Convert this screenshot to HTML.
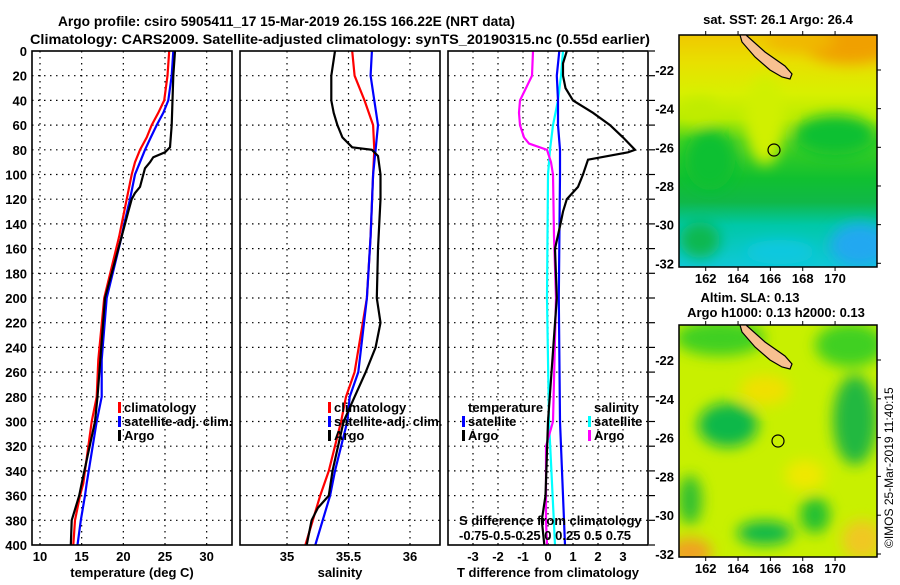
<!DOCTYPE html>
<html><head><meta charset="utf-8"><style>
html,body{margin:0;padding:0;background:#fff;}
svg text{font-family:"Liberation Sans",Arial,sans-serif;font-weight:bold;fill:#000;}
</style></head><body>
<svg id="fig" width="900" height="580" viewBox="0 0 900 580" xmlns="http://www.w3.org/2000/svg">
<defs>
<clipPath id="c1"><rect x="33" y="51" width="199" height="494"/></clipPath>
<clipPath id="c2"><rect x="241" y="51" width="199" height="494"/></clipPath>
<clipPath id="c3"><rect x="449" y="51" width="199" height="494"/></clipPath>
<clipPath id="m1"><rect x="679" y="35" width="198" height="232"/></clipPath>
<clipPath id="m2"><rect x="679" y="325" width="198" height="232"/></clipPath>
<filter id="bl" x="-50%" y="-50%" width="200%" height="200%"><feGaussianBlur stdDeviation="7"/></filter>
<linearGradient id="g1" x1="0" y1="0" x2="0" y2="1">
<stop offset="0" stop-color="#f0c800"/><stop offset="0.12" stop-color="#e8e000"/><stop offset="0.25" stop-color="#d8f000"/>
<stop offset="0.36" stop-color="#b8ec00"/><stop offset="0.46" stop-color="#40d020"/><stop offset="0.62" stop-color="#10c030"/>
<stop offset="0.72" stop-color="#10b848"/><stop offset="0.82" stop-color="#00c8a8"/><stop offset="1" stop-color="#10c8d8"/></linearGradient>
</defs>
<text x="58" y="26" font-size="14" textLength="457" lengthAdjust="spacingAndGlyphs">Argo profile: csiro 5905411_17 15-Mar-2019 26.15S 166.22E (NRT data)</text>
<text x="30" y="44" font-size="14" textLength="620" lengthAdjust="spacingAndGlyphs">Climatology: CARS2009. Satellite-adjusted climatology: synTS_20190315.nc (0.55d earlier)</text>
<g id="grid"></g>
<g id="lines"></g>
<g id="labels"></g>

<!-- map 1 -->
<g>
<g clip-path="url(#m1)">
<rect x="679" y="35" width="198" height="232" fill="url(#g1)"/>
<g filter="url(#bl)">
<ellipse cx="850" cy="42" rx="50" ry="22" fill="#f0a000"/>
<ellipse cx="800" cy="40" rx="35" ry="12" fill="#f0b800"/>
<ellipse cx="765" cy="120" rx="20" ry="45" fill="#d0f000"/>
<ellipse cx="700" cy="110" rx="18" ry="12" fill="#c0ec00"/>
<ellipse cx="710" cy="160" rx="25" ry="30" fill="#10c030"/>
<ellipse cx="835" cy="135" rx="40" ry="20" fill="#10c030"/>
<ellipse cx="860" cy="245" rx="30" ry="22" fill="#20a8f0"/>
<ellipse cx="780" cy="252" rx="35" ry="12" fill="#10c8e0"/>
<ellipse cx="700" cy="240" rx="20" ry="18" fill="#10b850"/>
</g>
</g>
<rect x="679" y="35" width="198" height="232" fill="none" stroke="#000" stroke-width="1.5"/>
<polygon points="740,35 746,35 765,52 785,66 792,74 790,79 782,77 770,70 755,57 742,42" fill="#f8c090" stroke="#000" stroke-width="1.2"/>
<circle cx="774" cy="150" r="6" fill="none" stroke="#000" stroke-width="1.2"/>
<text x="778" y="24" font-size="13" text-anchor="middle">sat. SST: 26.1 Argo: 26.4</text>
</g>
<!-- map 2 -->
<g>
<g clip-path="url(#m2)">
<rect x="679" y="325" width="198" height="232" fill="#c8f000"/>
<g filter="url(#bl)">
<ellipse cx="720" cy="338" rx="45" ry="18" fill="#40d020"/>
<ellipse cx="850" cy="345" rx="35" ry="22" fill="#40d020"/>
<ellipse cx="728" cy="425" rx="30" ry="22" fill="#10b848"/>
<ellipse cx="690" cy="500" rx="12" ry="25" fill="#30c030"/>
<ellipse cx="765" cy="533" rx="28" ry="12" fill="#10b848"/>
<ellipse cx="855" cy="420" rx="22" ry="45" fill="#20b840"/>
<ellipse cx="815" cy="515" rx="15" ry="18" fill="#20c030"/>
<ellipse cx="765" cy="390" rx="25" ry="15" fill="#f0e000"/>
<ellipse cx="805" cy="475" rx="20" ry="15" fill="#f0e800"/>
<ellipse cx="690" cy="552" rx="22" ry="14" fill="#f0a020"/>
<ellipse cx="862" cy="540" rx="20" ry="20" fill="#f0c820"/>
</g>
</g>
<rect x="679" y="325" width="198" height="232" fill="none" stroke="#000" stroke-width="1.5"/>
<polygon points="740,325 746,325 765,342 785,356 792,364 790,369 782,367 770,360 755,347 742,332" fill="#f8c090" stroke="#000" stroke-width="1.2"/>
<circle cx="778" cy="441" r="6" fill="none" stroke="#000" stroke-width="1.2"/>
<text x="750" y="302" font-size="13" text-anchor="middle">Altim. SLA: 0.13</text>
<text x="776" y="317" font-size="13" text-anchor="middle">Argo h1000: 0.13 h2000: 0.13</text>
</g>
<text transform="translate(893,548) rotate(-90)" font-size="12" style="font-weight:normal">©IMOS 25-Mar-2019 11:40:15</text>
</svg>
<script>
// ---- data (depth in m) ----
const tDepth = [0,20,40,50,60,70,80,90,100,120,140,150,200,250,280,300,350,360,380,400];
const tClim  = [25.5,25.3,24.9,24.2,23.4,22.8,22.0,21.4,21.0,20.4,19.8,19.5,17.7,17.0,16.8,16.2,15.2,14.8,14.2,14.0];
const tSat   = [26.0,25.8,25.4,24.8,24.0,23.3,22.6,22.0,21.4,20.8,20.1,19.8,18.0,17.4,17.4,16.8,15.6,15.4,14.9,14.5];
const aDepth = [0,20,40,60,78,82,86,90,95,100,110,115,120,130,150,200,280,300,350,360,380,400];
const tArgo  = [26.2,26.0,25.9,25.8,25.6,25.0,23.6,23.2,22.6,22.4,22.0,21.4,21.0,20.6,19.8,17.8,16.9,16.6,15.0,14.7,13.8,13.7];
const sDepth = [0,20,40,60,80,100,150,200,260,280,300,340,360,400];
const sClim  = [35.53,35.55,35.63,35.70,35.71,35.70,35.68,35.65,35.55,35.48,35.44,35.34,35.27,35.15];
const sSat   = [35.69,35.68,35.71,35.74,35.72,35.70,35.68,35.65,35.58,35.51,35.49,35.39,35.35,35.23];
const saDepth= [0,20,40,50,60,70,78,80,85,100,120,160,200,220,240,260,280,300,340,360,370,380,400];
const sArgo  = [35.39,35.36,35.36,35.38,35.41,35.45,35.53,35.69,35.74,35.76,35.76,35.74,35.73,35.76,35.72,35.64,35.55,35.46,35.37,35.34,35.25,35.20,35.16];
const dDepth = [0,20,40,60,80,100,200,300,400];
const dTSat  = [0.45,0.35,0.40,0.40,0.48,0.48,0.43,0.48,0.68];
const dSSat  = [0.15,0.13,0.10,0.05,0.02,0.00,-0.01,0.01,0.07];
const ddDepth= [0,10,20,30,40,50,60,70,80,82,88,100,110,120,130,140,160,200,300,360,380,400];
const dTArgo = [0.75,0.6,0.6,0.7,1.0,1.8,2.48,3.0,3.48,3.2,1.6,1.4,1.2,0.75,0.6,0.5,0.28,0.35,0.0,-0.1,-0.25,-0.15];
const dsDepth= [0,20,40,50,60,70,75,80,90,100,150,200,300,320,380,400];
const dSArgo = [-0.15,-0.16,-0.28,-0.29,-0.28,-0.24,-0.19,-0.01,0.03,0.05,0.06,0.08,0.05,-0.02,-0.02,-0.01];
const depthTicks = [0,20,40,60,80,100,120,140,160,180,200,220,240,260,280,300,320,340,360,380,400];
const tTicks = [10,15,20,25,30];
const sTicks = [35,35.5,36];
const dTicks = [-3,-2,-1,0,1,2,3];
const lonTicks = [162,164,166,168,170];
const latTicks = [-22,-24,-26,-28,-30,-32];

const NS='http://www.w3.org/2000/svg';
const yD = d => 51 + d*1.235;
const xT = t => 40 + (t-10)*8.333;
const xS = s => 287 + (s-35)*123;
const xDT = v => 548 + v*25;
const xDS = v => 548 + v*100;
const xLon = l => 705.7 + (l-162)*16.17;
const yLat1 = l => 70 + (-22-l)*19.33;
const yLat2 = l => 360 + (-22-l)*19.4;

function mk(tag, attrs, parent){const e=document.createElementNS(NS,tag);for(const k in attrs)e.setAttribute(k,attrs[k]);parent.appendChild(e);return e;}
const G=document.getElementById('grid'), L=document.getElementById('lines'), T=document.getElementById('labels');

const panels=[{x0:32,clip:'c1',xs:xT,ticks:tTicks,lab:'temperature (deg C)',name:'temperature'},
  {x0:240,clip:'c2',xs:xS,ticks:sTicks,lab:'salinity',name:'salinity'},
  {x0:448,clip:'c3',xs:xDT,ticks:dTicks,lab:'T difference from climatology',name:'difference'}];
panels.forEach(p=>{
  depthTicks.forEach(d=>{ if(d>0&&d<400){
    const ln=mk('line',{x1:p.x0,x2:p.x0+200,y1:yD(d),y2:yD(d),stroke:'#000','stroke-width':1.2,'stroke-dasharray':'1.5 4.5'},G);
    
    
  }});
  p.ticks.forEach(v=>{
    const x=p.xs(v);
    const ln=mk('line',{x1:x,x2:x,y1:51,y2:545,stroke:'#000','stroke-width':1.2,'stroke-dasharray':'1.5 4.5'},G);
    
    
    const tx=mk('text',{x:x,y:561,'font-size':13,'text-anchor':'middle'},T);
    tx.textContent=String(v);
    
    
  });
  const fr=mk('rect',{x:p.x0,y:51,width:200,height:494,fill:'none',stroke:'#000','stroke-width':1.6},T);
  
  
  const xl=mk('text',{x:p.x0+100,y:577,'font-size':13,'text-anchor':'middle'},T);
  xl.textContent=p.lab;
  
  
});
depthTicks.forEach(d=>{
  const tx=mk('text',{x:27,y:yD(d)+5,'font-size':13,'text-anchor':'end'},T);
  tx.textContent=String(d);
  
  
  const tk=mk('line',{x1:649,x2:655,y1:yD(d),y2:yD(d),stroke:'#000','stroke-width':1.2},T);
  
  
});

function series(depths, vals, xs, color, clip, name){
  const pts=depths.map((d,i)=>xs(vals[i]).toFixed(1)+','+yD(d).toFixed(1)).join(' ');
  const pl=mk('polyline',{points:pts,fill:'none',stroke:color,'stroke-width':2.2,'clip-path':'url(#'+clip+')'},L);
  
  
}
series(tDepth,tClim,xT,'#ff0000','c1','temp-climatology-line');
series(tDepth,tSat,xT,'#0000ff','c1','temp-satellite-line');
series(aDepth,tArgo,xT,'#000000','c1','temp-argo-line');
series(sDepth,sClim,xS,'#ff0000','c2','sal-climatology-line');
series(sDepth,sSat,xS,'#0000ff','c2','sal-satellite-line');
series(saDepth,sArgo,xS,'#000000','c2','sal-argo-line');
series(dDepth,dSSat,xDS,'#00ffff','c3','sdiff-satellite-line');
series(dsDepth,dSArgo,xDS,'#ff00ff','c3','sdiff-argo-line');
series(dDepth,dTSat,xDT,'#0000ff','c3','tdiff-satellite-line');
series(ddDepth,dTArgo,xDT,'#000000','c3','tdiff-argo-line');

function legend(x,y,color,label,name){
  if(color){const r=mk('rect',{x:x,y:y-10,width:3,height:11,fill:color},T);
  
  }
  const tx=mk('text',{x:x+6,y:y,'font-size':13},T);
  tx.textContent=label;
  
  
}
legend(118,412,'#ff0000','climatology','legend-climatology');
legend(118,426,'#0000ff','satellite-adj. clim.','legend-satellite-adj');
legend(118,440,'#000000','Argo','legend-argo');
legend(328,412,'#ff0000','climatology','legend2-climatology');
legend(328,426,'#0000ff','satellite-adj. clim.','legend2-satellite-adj');
legend(328,440,'#000000','Argo','legend2-argo');
legend(462,412,null,'temperature','legend-temperature-header');
legend(462,426,'#0000ff','satellite','legend-t-satellite');
legend(462,440,'#000000','Argo','legend-t-argo');
legend(588,412,null,'salinity','legend-salinity-header');
legend(588,426,'#00ffff','satellite','legend-s-satellite');
legend(588,440,'#ff00ff','Argo','legend-s-argo');
const sd=mk('text',{x:459,y:525,'font-size':13},T);
sd.textContent='S difference from climatology';


const sdt=mk('text',{x:459,y:540,'font-size':13},T);
sdt.textContent='-0.75-0.5-0.25 0  0.25 0.5 0.75';



[[267,yLat1,35],[557,yLat2,325]].forEach(([yb,yl,yt],mi)=>{
  lonTicks.forEach(l=>{
    const tx=mk('text',{x:xLon(l),y:yb+16,'font-size':13,'text-anchor':'middle'},T);
    tx.textContent=String(l);
    
    
    mk('line',{x1:xLon(l),x2:xLon(l),y1:yb,y2:yb+4,stroke:'#000'},T);
    mk('line',{x1:xLon(l),x2:xLon(l),y1:yt-4,y2:yt,stroke:'#000'},T);
  });
  latTicks.forEach(l=>{
    const tx=mk('text',{x:674,y:yl(l)+5,'font-size':13,'text-anchor':'end'},T);
    tx.textContent=String(l);
    
    
    mk('line',{x1:877,x2:881,y1:yl(l),y2:yl(l),stroke:'#000'},T);
  });
});
</script>
</body></html>
